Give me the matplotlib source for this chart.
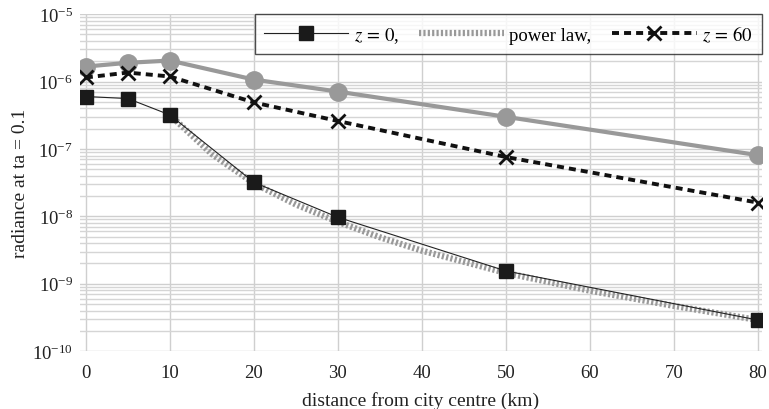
import matplotlib
matplotlib.use("Agg")
import matplotlib.pyplot as plt
from matplotlib.ticker import FixedLocator, NullFormatter, LogFormatterSciNotation

plt.rcParams['font.family'] = ['Liberation Serif', 'DejaVu Serif']
plt.rcParams['mathtext.fontset'] = 'stix'

# data
dist = [0, 5, 10, 20, 30, 50, 80]
z0 = [6.0e-7, 5.6e-7, 3.2e-7, 3.2e-8, 9.7e-9, 1.55e-9, 2.9e-10]
grey = [1.67e-6, 1.9e-6, 2.05e-6, 1.07e-6, 7.1e-7, 3.0e-7, 8.1e-8]
z60 = [1.15e-6, 1.36e-6, 1.19e-6, 4.9e-7, 2.6e-7, 7.6e-8, 1.6e-8]
pl_x = [10, 15, 20, 25, 30, 35, 40, 50, 60, 70, 80]
pl_y = [3.2e-7, 8.4e-8, 3.1e-8, 1.5e-8, 8.3e-9, 4.9e-9, 3.1e-9, 1.45e-9, 7.9e-10, 4.7e-10, 2.9e-10]
xticks = [0, 10, 20, 30, 40, 50, 60, 70, 80]
yticks = [1e-10, 1e-9, 1e-8, 1e-7, 1e-6, 1e-5]

fig = plt.figure(figsize=(7.69, 4.10), dpi=100)
ax = fig.add_axes([0.104, 0.141, 0.887, 0.822])

ax.plot(dist, grey, color='#999999', lw=3, marker='o', ms=12.5, zorder=3)
ax.plot(dist, z0, color='#222222', lw=0.8, marker='s', ms=10.5, mfc='#1a1a1a', mec='#1a1a1a',
        label=r'$z\,=\,0$,', zorder=4)
ax.plot(pl_x, pl_y, color='#999999', lw=4.5, dashes=(0.35, 0.35), label='power law,', zorder=3)
ax.plot(dist, z60, color='#111111', lw=2.8, dashes=(1.8, 1.3), marker='x', ms=10, mew=2,
        label=r'$z\,=\,60$', zorder=4)

ax.set_yscale('log')
ax.set_ylim(yticks[0], yticks[-1])
ax.set_xlim(-0.7, 80.5)
ax.xaxis.set_major_locator(FixedLocator(xticks))
ax.yaxis.set_major_locator(FixedLocator(yticks))
ax.yaxis.set_major_formatter(LogFormatterSciNotation())
minor = [m * t for t in yticks[:-1] for m in range(2, 10)]
ax.yaxis.set_minor_locator(FixedLocator(minor))
ax.yaxis.set_minor_formatter(NullFormatter())
ax.grid(True, which='major', color='#cfcfcf', lw=1.0)
ax.grid(True, which='minor', axis='y', color='#d5d5d5', lw=1.0)
for s in ax.spines.values():
    s.set_visible(False)
ax.tick_params(which='both', length=0, labelsize=13.5, colors='#222222')
ax.tick_params(axis='x', pad=9)
ax.tick_params(axis='y', pad=5)

ax.set_xlabel('distance from city centre (km)', fontsize=14, color='#222222')
ax.set_ylabel('radiance at ta = 0.1', fontsize=14, color='#222222')
ax.xaxis.set_label_coords(0.5, -0.117)
ax.yaxis.set_label_coords(-0.075, 0.5)

leg = ax.legend(loc='upper right', ncol=3, fontsize=13.5, frameon=True, fancybox=False,
                edgecolor='#222222', handlelength=4.5, columnspacing=1.1, handletextpad=0.3,
                borderaxespad=0.0, borderpad=0.5, bbox_to_anchor=(1.0, 1.0))
leg.get_frame().set_linewidth(1.0)
leg.set_zorder(10)

fig.savefig('out.png', dpi=100)
